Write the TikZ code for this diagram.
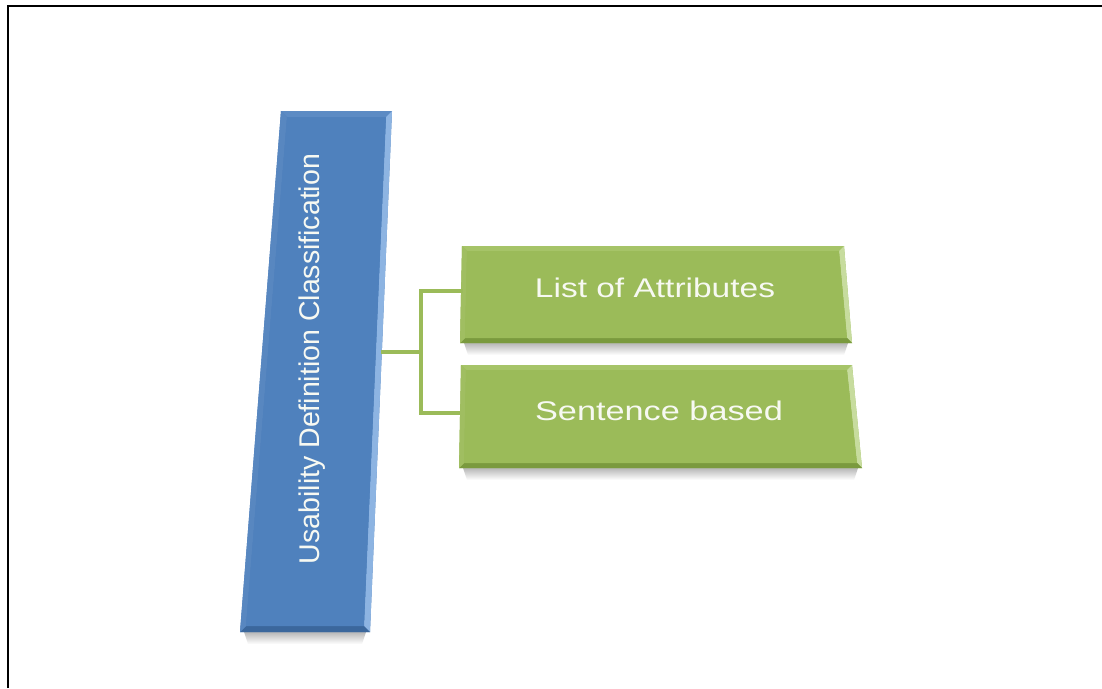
\documentclass[tikz,border=0pt]{standalone}
\usepackage{fontspec}
\setmainfont{Liberation Sans}
\usetikzlibrary{calc}
\definecolor{bmain}{HTML}{4F81BD}
\definecolor{blight}{HTML}{8DB4E2}
\definecolor{bdark}{HTML}{3B679C}
\definecolor{btop}{HTML}{5C8BC4}
\definecolor{gmain}{HTML}{9BBB59}
\definecolor{glight}{HTML}{C7DC9E}
\definecolor{gdark}{HTML}{7A9A3E}
\definecolor{gtop}{HTML}{A6C468}
\definecolor{txt}{HTML}{F7F9F2}
\tikzset{
  conn/.style={draw=gmain, line width=4pt, line join=miter},
  frameline/.style={draw=black, line width=2pt},
  labeltext/.style={text=txt, inner sep=0pt, font=\fontsize{27}{32}\selectfont},
  vlabeltext/.style={text=txt, inner sep=0pt, font=\fontsize{28.5}{34}\selectfont},
}
\newcommand{\bevelbox}[9]{%
  \coordinate (oA) at #1; \coordinate (oB) at #2; \coordinate (oC) at #3; \coordinate (oD) at #4;
  \coordinate (iA) at ($(oA)+(#9,#9)$); \coordinate (iB) at ($(oB)+(-#9,#9)$);
  \coordinate (iC) at ($(oC)+(-#9,-#9)$); \coordinate (iD) at ($(oD)+(#9,-#9)$);
  \shade[top color=black!35, bottom color=white, opacity=0.8]
    ($(oD)+(4,0)$) -- ($(oC)+(-4,0)$) -- ($(oC)+(-8,12)$) -- ($(oD)+(8,12)$) -- cycle;
  \fill[#5] (oA) -- (oB) -- (oC) -- (oD) -- cycle;
  \fill[#8] (oA) -- (oB) -- (iB) -- (iA) -- cycle;
  \fill[#6] (oB) -- (oC) -- (iC) -- (iB) -- cycle;
  \fill[#7] (oD) -- (oC) -- (iC) -- (iD) -- cycle;
  \fill[#5!95!white] (oA) -- (oD) -- (iD) -- (iA) -- cycle;
  \fill[#5] (iA) -- (iB) -- (iC) -- (iD) -- cycle;
}
\begin{document}
\begin{tikzpicture}[x=1pt,y=-1pt]
\useasboundingbox (0,0) rectangle (1102,688);
\fill[white] (0,0) rectangle (1102,688);
% frame
\draw[frameline] (8,688) -- (8,6) -- (1102,6);
% blue vertical box
\bevelbox{(281,111)}{(392,111)}{(370,632)}{(240,632)}{bmain}{blight}{bdark}{btop}{6}
% green boxes
\bevelbox{(462,246)}{(844,246)}{(852,343)}{(460,343)}{gmain}{glight}{gdark}{gtop}{5}
\bevelbox{(461,365)}{(852,365)}{(862,468)}{(459,468)}{gmain}{glight}{gdark}{gtop}{5}
% labels
\node[vlabeltext, rotate=90, anchor=base] (usab) at (319,359) {Usability Definition Classification};
\node[labeltext, anchor=base] (attr) at (655,297) {\scalebox{1.24}[1]{List of Attributes}};
\node[labeltext, anchor=base] (sent) at (659,420) {\scalebox{1.27}[1]{Sentence based}};
% connector points
\coordinate (bj) at (381,352);
\coordinate (jx) at (421,352);
\coordinate (g1w) at (463,291);
\coordinate (g2w) at (460,413);
\draw[conn] (bj) -- (jx);
\draw[conn] (g1w) -| (jx) |- (g2w);
\end{tikzpicture}
\end{document}
